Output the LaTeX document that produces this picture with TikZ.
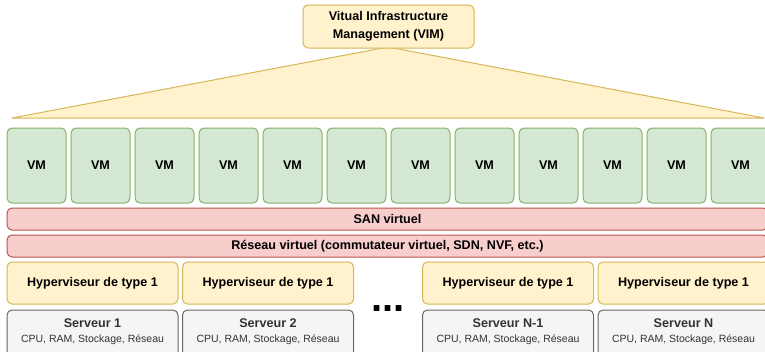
\documentclass[tikz,border=0pt]{standalone}
\usepackage{fontspec}
\setmainfont{Liberation Sans}
\definecolor{ylwfill}{HTML}{FFF2CC}
\definecolor{ylwline}{HTML}{D6B656}
\definecolor{grnfill}{HTML}{D5E8D4}
\definecolor{grnline}{HTML}{82B366}
\definecolor{redfill}{HTML}{F8CECC}
\definecolor{redline}{HTML}{B85450}
\definecolor{gryfill}{HTML}{F5F5F5}
\definecolor{gryline}{HTML}{666666}
\definecolor{gtext}{HTML}{333333}
\tikzset{
  box/.style={rounded corners=5pt, inner sep=0pt, outer sep=0pt, line width=1pt, align=center},
  ylw/.style={box, fill=ylwfill, draw=ylwline},
  vmbox/.style={box, fill=grnfill, draw=grnline, minimum width=59pt, minimum height=75pt, font=\fontsize{12.6}{15}\selectfont\bfseries},
  bar/.style={box, fill=redfill, draw=redline, minimum width=761pt, minimum height=22pt, font=\fontsize{12.6}{15}\selectfont\bfseries},
  hyp/.style={ylw, minimum width=171pt, minimum height=42pt, font=\fontsize{12.6}{15}\selectfont\bfseries},
  srv/.style={box, fill=gryfill, draw=gryline, minimum width=171pt, minimum height=50pt},
  stitle/.style={inner sep=0pt, text=gtext, font=\fontsize{12.6}{15}\selectfont\bfseries},
  ssub/.style={inner sep=0pt, text=gtext, font=\fontsize{10.5}{12}\selectfont},
}
\begin{document}
\begin{tikzpicture}[x=1pt,y=-1pt]
\useasboundingbox (0,0) rectangle (765,351);
\clip (0,0) rectangle (765,351);
% triangle
\draw[fill=ylwfill, draw=ylwline, line width=1pt, line join=round] (12,118) -- (388,47) -- (764,118) -- cycle;
% VIM
\node[ylw, minimum width=171pt, minimum height=43pt, font=\fontsize{12.6}{17.5}\selectfont\bfseries] (vim) at (388.5,26.5) {Vitual Infrastructure\\Management (VIM)};
% VMs
\foreach \i in {0,...,11} {
  \node[vmbox] (vm\i) at ({36.5+64*\i},165.5) {VM};
}
% bars
\node[bar] (san) at (387.5,219) {SAN virtuel};
\node[bar] (net) at (387.5,246) {Réseau virtuel (commutateur virtuel, SDN, NVF, etc.)};
% hypervisors
\node[hyp] (h1) at (92.5,283) {Hyperviseur de type 1};
\node[hyp] (h2) at (268,283) {Hyperviseur de type 1};
\node[hyp] (h3) at (508,283) {Hyperviseur de type 1};
\node[hyp] (h4) at (683.5,283) {Hyperviseur de type 1};
% servers
\node[srv] (s1) at (92.5,335) {};
\node[srv] (s2) at (268,335) {};
\node[srv] (s3) at (508,335) {};
\node[srv] (s4) at (683.5,335) {};
\node[stitle] (s1t) at (92.5,323) {Serveur 1};
\node[stitle] (s2t) at (268,323) {Serveur 2};
\node[stitle] (s3t) at (508,323) {Serveur N-1};
\node[stitle] (s4t) at (683.5,323) {Serveur N};
\node[ssub] (s1s) at (92.5,340) {CPU, RAM, Stockage, Réseau};
\node[ssub] (s2s) at (268,340) {CPU, RAM, Stockage, Réseau};
\node[ssub] (s3s) at (508,340) {CPU, RAM, Stockage, Réseau};
\node[ssub] (s4s) at (683.5,340) {CPU, RAM, Stockage, Réseau};
% dots
\node[inner sep=0pt, font=\fontsize{40}{40}\selectfont\bfseries, anchor=base] (dots) at (388,311) {...};
\end{tikzpicture}
\end{document}
